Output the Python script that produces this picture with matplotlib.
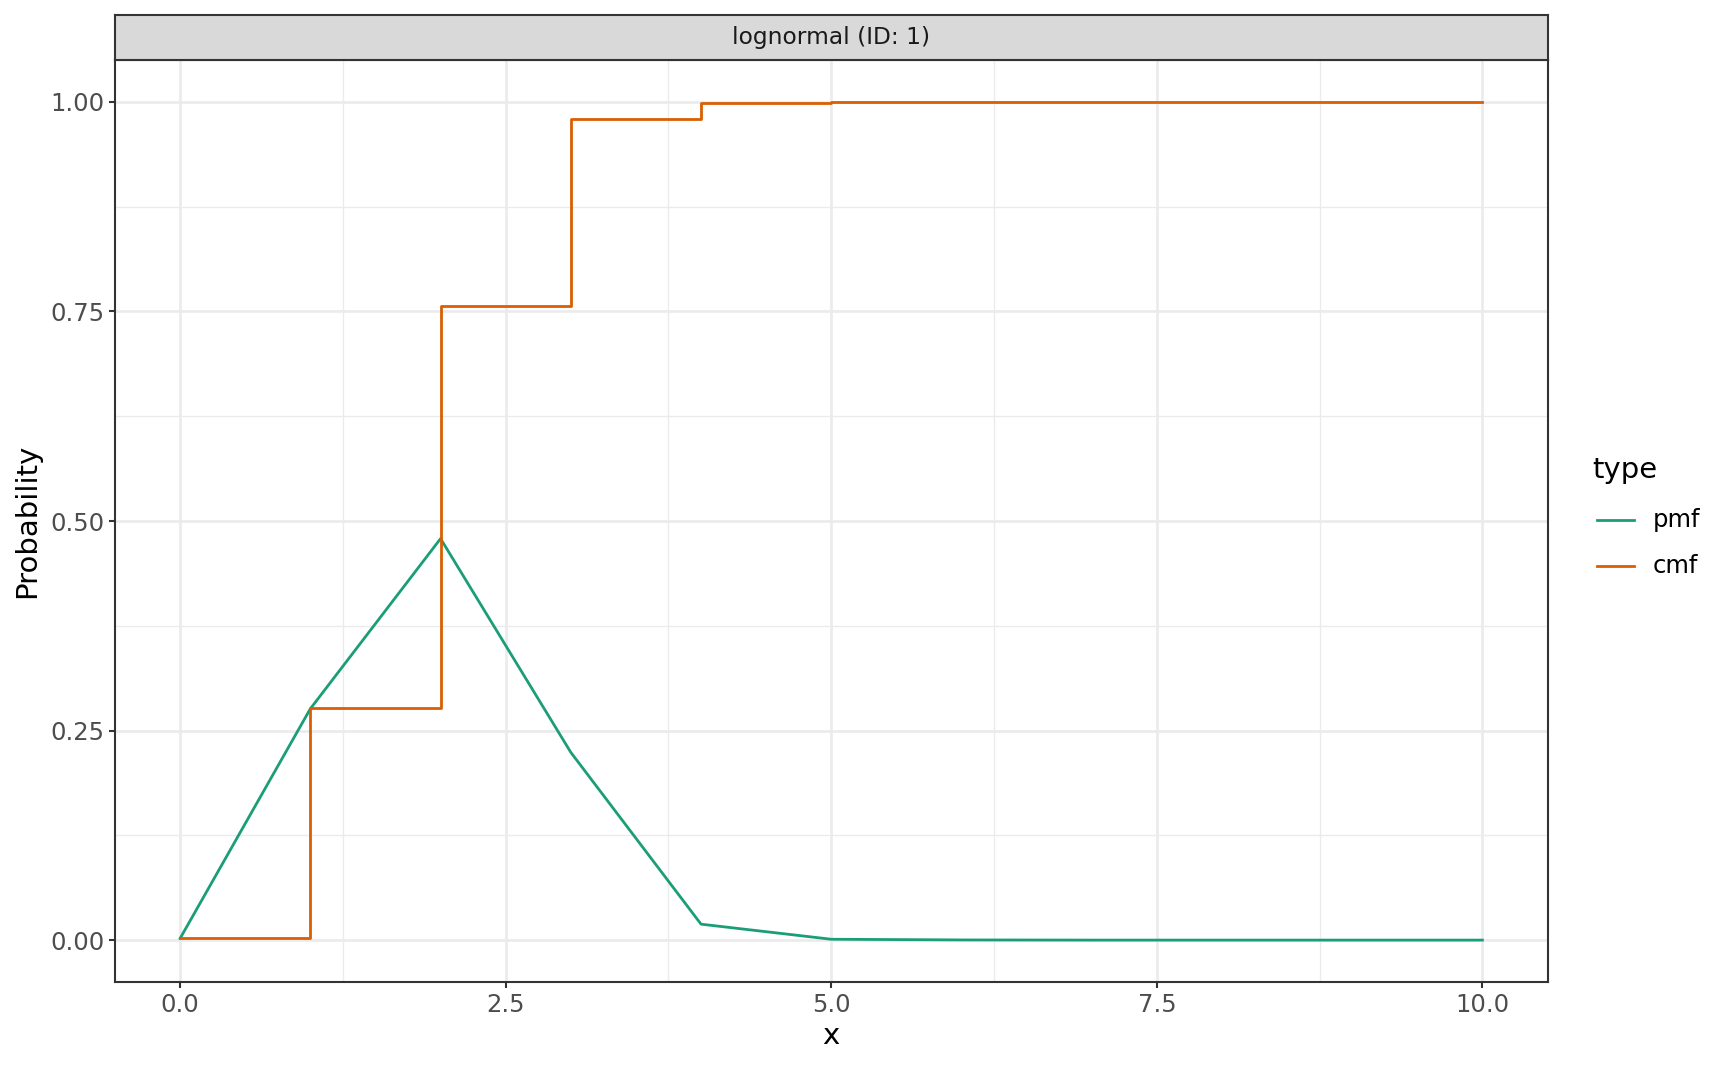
import matplotlib
matplotlib.use("Agg")
import matplotlib.pyplot as plt
from matplotlib.lines import Line2D

x_vals = [0, 1, 2, 3, 4, 5, 6, 7, 8, 9, 10]
pmf_vals = [0.002, 0.276, 0.479, 0.224, 0.019, 0.001, 0.0002, 0.0, 0.0, 0.0, 0.0]
cmf_vals = [0.002, 0.277, 0.756, 0.980, 0.999, 1.0, 1.0, 1.0, 1.0, 1.0, 1.0]
series_names = ["pmf", "cmf"]
series_colors = ["#1B9E77", "#D95F02"]
strip_label = "lognormal (ID: 1)"
x_ticks = [0.0, 2.5, 5.0, 7.5, 10.0]
x_tick_labels = ["0.0", "2.5", "5.0", "7.5", "10.0"]
y_ticks = [0.0, 0.25, 0.50, 0.75, 1.00]
y_tick_labels = ["0.00", "0.25", "0.50", "0.75", "1.00"]

W, H = 1728, 1067
plt.rcParams['font.family'] = ['DejaVu Sans']
fig = plt.figure(figsize=(W / 100, H / 100), dpi=100)

# panel in pixel coords
pl, pr, pt, pb = 115, 1547.5, 60, 982
st = 15
ax = fig.add_axes([pl / W, 1 - pb / H, (pr - pl) / W, (pb - pt) / H])

grid_col = "#EBEBEB"
ax.set_xlim(-0.5, 10.5)
ax.set_ylim(-0.05, 1.05)
ax.set_xticks(x_ticks)
ax.set_xticklabels(x_tick_labels)
ax.set_yticks(y_ticks)
ax.set_yticklabels(y_tick_labels)
ax.set_xticks([1.25, 3.75, 6.25, 8.75], minor=True)
ax.set_yticks([0.125, 0.375, 0.625, 0.875], minor=True)
ax.grid(which="major", color=grid_col, linewidth=1.9)
ax.grid(which="minor", color=grid_col, linewidth=0.95)
ax.set_axisbelow(True)
ax.tick_params(which="minor", length=0)
ax.tick_params(which="major", length=4.6, width=1.5, color="#333333",
               labelcolor="#4D4D4D", labelsize=17.5, pad=3)
for s in ax.spines.values():
    s.set_color("#333333")
    s.set_linewidth(1.5)

l1, = ax.plot(x_vals, pmf_vals, color=series_colors[0], linewidth=2.0)
l2, = ax.step(x_vals, cmf_vals, where="post", color=series_colors[1], linewidth=2.0)

ax.set_xlabel("x", fontsize=21)
ax.set_ylabel("Probability", fontsize=21)
ax.xaxis.set_label_coords(0.5, (pb - 1036) / (pb - pt))
ax.xaxis.label.set_va("center")
ax.yaxis.set_label_coords((27 - pl) / (pr - pl), 0.5)
ax.yaxis.label.set_va("center")

# facet strip
sax = fig.add_axes([pl / W, 1 - pt / H, (pr - pl) / W, (pt - st) / H])
sax.set_xlim(0, 1)
sax.set_ylim(0, 1)
sax.set_facecolor("#D9D9D9")
sax.set_xticks([])
sax.set_yticks([])
for s in sax.spines.values():
    s.set_color("#333333")
    s.set_linewidth(1.5)
sax.text(0.5, 0.5, strip_label, ha="center", va="center", fontsize=16.8, color="#1A1A1A")

# legend (guide)
fig.text(1592 / W, 1 - 470 / H, "type", fontsize=21, ha="left", va="center")
key_y = [520, 566]
for name, col, ky in zip(series_names, series_colors, key_y):
    fig.add_artist(Line2D([1597 / W, 1634 / W], [1 - ky / H, 1 - ky / H],
                          color=col, linewidth=2.0, transform=fig.transFigure))
    fig.text(1653 / W, 1 - ky / H, name, fontsize=17.5, ha="left", va="center")

fig.savefig("out.png", dpi=100)
